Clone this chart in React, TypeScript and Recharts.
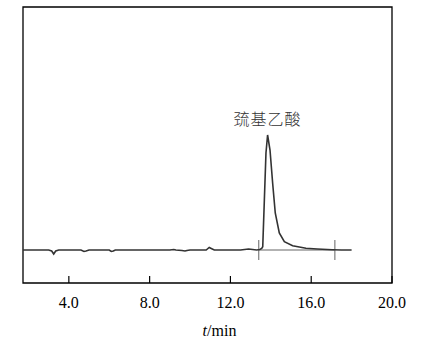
import {
  LineChart,
  Line,
  XAxis,
  YAxis,
  ReferenceLine,
  ReferenceDot,
  ReferenceArea,
} from 'recharts';

// retention time (min) and detector signal (arbitrary units, baseline = 0)
const times = [
  1.73, 2.5, 3.0, 3.15, 3.25, 3.35, 3.5, 4.0, 4.6, 4.75, 4.85, 5.0, 6.0, 6.1,
  6.2, 6.3, 7.5, 9.0, 9.2, 9.3, 9.6, 9.75, 9.85, 10.0, 10.8, 10.95, 11.05,
  11.2, 11.5, 12.5, 12.9, 13.1, 13.3, 13.45, 13.55, 13.6, 13.68, 13.76, 13.84,
  13.96, 14.09, 14.22, 14.42, 14.67, 15.08, 15.74, 16.3, 17.04, 17.5, 18.0,
];
const signal = [
  0, 0, 0, -1, -4, -1, 0, 0, 0, -1.5, -1, 0, 0, -1.5, -1, 0, 0, 0, 0.5, 0,
  -0.5, -1, -0.5, 0, 0, 2.5, 1.5, 0, 0, 0, 1, 0.5, 0, 0.5, 1.5, 3.3, 50, 97,
  115, 100, 67, 37, 17, 8.3, 4.3, 1.7, 1, 0.3, 0, 0,
];
const xTicks = [4, 8, 12, 16, 20];
const xDomain: [number, number] = [1.73, 20];
const yDomain: [number, number] = [-33, 243];
const peakName = '巯基乙酸';
const peakTime = 13.84;
const peakValue = 115;
const integStart = 13.4;
const integEnd = 17.17;

const data = times.map((t, i) => ({ t, v: signal[i] }));

const serif = '"Liberation Serif", "DejaVu Serif", serif';

const XTick = (props: any) => {
  const { x, y, payload } = props;
  return (
    <text x={x} y={y + 25} textAnchor="middle" fontFamily={serif} fontSize={16} fill="#000">
      {Number(payload.value).toFixed(1)}
    </text>
  );
};

const AxisTitle = (props: any) => {
  const { viewBox } = props;
  const cx = viewBox.x + viewBox.width / 2 + 12;
  return (
    <text x={cx} y={viewBox.y + 53} textAnchor="middle" fontFamily={serif} fontSize={16} fill="#000">
      <tspan fontStyle="italic">t</tspan>/min
    </text>
  );
};

const PeakLabel = (props: any) => {
  const { viewBox } = props;
  return (
    <text
      x={viewBox.x}
      y={viewBox.y - 10}
      textAnchor="middle"
      fontFamily='"Noto Sans CJK SC", sans-serif'
      fontSize={16}
      fontWeight={300}
      letterSpacing={1}
      fill="#333"
    >
      {peakName}
    </text>
  );
};

export default function App() {
  return (
    <div style={{ position: 'absolute', left: 0, top: 0, background: '#fff' }}>
      <LineChart
        width={427}
        height={342}
        data={data}
        margin={{ top: 7, right: 35, bottom: 0, left: 23 }}
      >
        <XAxis
          dataKey="t"
          type="number"
          domain={xDomain}
          ticks={xTicks}
          allowDataOverflow
          height={59}
          tickSize={0}
          tickMargin={0}
          tickLine={false}
          tick={<XTick />}
          axisLine={false}
          label={{ content: <AxisTitle /> }}
        />
        <YAxis type="number" domain={yDomain} hide />
        <ReferenceArea
          x1={xDomain[0]}
          x2={xDomain[1]}
          y1={yDomain[0]}
          y2={yDomain[1]}
          fill="none"
          stroke="#000"
          strokeWidth={1.3}
          ifOverflow="visible"
        />
        {xTicks.map((t) => (
          <ReferenceLine
            key={t}
            segment={[
              { x: t, y: yDomain[0] },
              { x: t, y: yDomain[0] + 7 },
            ]}
            stroke="#000"
            strokeWidth={1.2}
            ifOverflow="visible"
          />
        ))}
        <ReferenceLine
          segment={[
            { x: integStart, y: 0 },
            { x: integEnd, y: 0 },
          ]}
          stroke="#999"
          strokeWidth={1.3}
        />
        <ReferenceLine
          segment={[
            { x: integStart, y: -10 },
            { x: integStart, y: 10 },
          ]}
          stroke="#888"
          strokeWidth={1.3}
        />
        <ReferenceLine
          segment={[
            { x: integEnd, y: -10 },
            { x: integEnd, y: 10 },
          ]}
          stroke="#888"
          strokeWidth={1.3}
        />
        <Line
          dataKey="v"
          type="linear"
          stroke="#333"
          strokeWidth={1.6}
          dot={false}
          isAnimationActive={false}
        />
        <ReferenceDot
          x={peakTime}
          y={peakValue}
          r={0}
          stroke="none"
          fill="none"
          label={{ content: <PeakLabel /> }}
        />
      </LineChart>
    </div>
  );
}
